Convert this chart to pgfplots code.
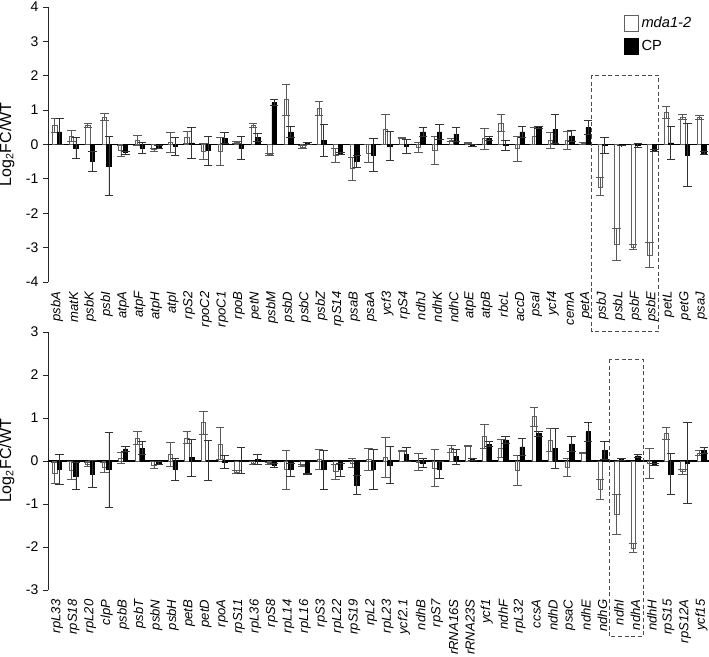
\documentclass[border=0pt]{standalone}
\usepackage{fontspec}
\setmainfont{Liberation Sans}
\usepackage{pgfplots}
\usepackage{pgfplotstable}
\pgfplotsset{compat=1.18}

\pgfplotstableread{
x w we b be
0 0.56 0.20 0.37 0.38
1 0.25 0.15 -0.10 0.30
2 0.56 0.06 -0.49 0.29
3 0.80 0.11 -0.62 0.85
4 -0.18 0.16 -0.24 0.05
5 0.12 0.14 -0.10 0.15
6 -0.15 0.05 -0.08 0.04
7 0.06 0.28 -0.05 0.26
8 0.20 0.17 0.05 0.45
9 -0.20 0.24 -0.18 0.42
10 -0.20 0.40 0.18 0.16
11 0.06 0.03 -0.10 0.34
12 0.56 0.06 0.20 0.12
13 -0.29 0.02 1.22 0.08
14 1.31 0.45 0.37 0.15
15 -0.07 0.05 0.04 0.03
16 1.05 0.19 0.12 0.46
17 -0.31 0.21 -0.25 0.03
18 -0.70 0.33 -0.50 0.18
19 -0.25 0.26 -0.30 0.48
20 0.44 0.44 -0.04 0.42
21 0.19 0.02 -0.05 0.20
22 -0.08 0.14 0.37 0.13
23 -0.17 0.40 0.37 0.21
24 0.13 0.05 0.30 0.21
25 0.05 0.02 -0.03 0.02
26 0.17 0.30 0.18 0.07
27 0.63 0.24 -0.02 0.15
28 -0.12 0.36 0.37 0.17
29 0.25 0.24 0.50 0.03
30 0.12 0.24 0.45 0.42
31 0.13 0.26 0.25 0.17
32 0.03 0.02 0.50 0.20
33 -1.23 0.26 -0.02 0.23
34 -2.90 0.47 -0.03 0.01
35 -2.98 0.06 -0.03 0.05
36 -3.22 0.36 -0.17 0.02
37 0.93 0.17 0.05 0.47
38 0.80 0.07 -0.30 0.92
39 0.79 0.06 -0.25 0.04
}\toptable

\pgfplotstableread{
x w we b be
0 -0.28 0.25 -0.20 0.35
1 -0.22 0.20 -0.35 0.32
2 -0.08 0.04 -0.30 0.32
3 -0.15 0.12 -0.20 0.87
4 0.07 0.13 0.28 0.05
5 0.53 0.15 0.30 0.15
6 -0.10 0.08 -0.05 0.03
7 0.15 0.28 -0.20 0.25
8 0.54 0.14 0.08 0.43
9 0.89 0.26 0.02 0.47
10 0.40 0.37 -0.03 0.15
11 -0.26 0.03 0.02 0.30
12 -0.05 0.04 0.04 0.12
13 -0.05 0.02 -0.10 0.05
14 -0.20 0.45 -0.20 0.15
15 -0.10 0.03 -0.30 0.02
16 0.04 0.24 -0.20 0.45
17 -0.25 0.17 -0.20 0.15
18 -0.05 0.10 -0.56 0.22
19 0.04 0.25 -0.20 0.46
20 0.08 0.47 -0.10 0.43
21 0.24 0.01 0.15 0.16
22 -0.02 0.20 -0.05 0.10
23 -0.16 0.42 -0.20 0.20
24 0.29 0.08 0.10 0.18
25 0.36 0.01 0.03 0.02
26 0.58 0.28 0.39 0.06
27 0.29 0.21 0.49 0.09
28 -0.21 0.35 0.33 0.20
29 1.03 0.22 0.64 0.06
30 0.49 0.27 0.29 0.46
31 -0.15 0.21 0.40 0.17
32 0.19 0.01 0.68 0.22
33 -0.66 0.24 0.24 0.21
34 -1.24 0.47 0.03 0.02
35 -2.02 0.10 0.12 0.04
36 -0.05 0.35 -0.08 0.02
37 0.64 0.14 -0.30 0.48
38 -0.25 0.05 -0.05 0.94
39 0.19 0.06 0.24 0.07
}\bottable

\pgfplotsset{
  panel/.style={
    scale only axis, width=495.75pt,
    xmin=-0.55, xmax=39.45,
    axis y line*=left, axis x line*=bottom,
    x axis line style={draw=none}, xtick style={draw=none},
    xtick={0,...,39},
    tick align=outside, major tick length=3.75pt,
    ytick style={black!85, line width=0.6pt},
    y axis line style={black!85, line width=0.6pt},
    xticklabel style={rotate=90, anchor=east, font=\fontsize{9.8}{11}\selectfont\itshape},
    yticklabel style={font=\fontsize{10.5}{12}\selectfont},
    ylabel={Log\textsubscript{2}FC/WT},
    ylabel style={font=\fontsize{12}{14}\selectfont},
    ylabel shift=-2pt,
    ybar, bar width=0.27,
    extra y ticks={0}, extra y tick labels={},
    extra y tick style={grid=major, major grid style={black, line width=0.9pt}, major tick length=0pt},
    clip=false,
  },
  wbar/.style={fill=white, draw=gray!75!black, line width=0.4pt, bar shift=-0.14,
    legend image code/.code={\draw[fill=white, draw=gray!75!black, line width=0.5pt] (0pt,-6pt) rectangle (11pt,6pt);},
    error bars/.cd, y dir=both, y explicit, error mark=|,
    error bar style={gray!70!black, line width=0.55pt},
    error mark options={gray!70!black, mark size=3.2pt, line width=0.6pt}},
  bbar/.style={fill=black, draw=black, line width=0.4pt, bar shift=0.14,
    legend image code/.code={\draw[fill=black, draw=black] (0pt,-6pt) rectangle (11pt,6pt);},
    error bars/.cd, y dir=both, y explicit, error mark=|,
    error bar style={gray!40!black, line width=0.55pt},
    error mark options={gray!40!black, mark size=3.2pt, line width=0.6pt}},
}

\begin{document}
\begin{tikzpicture}
\begin{axis}[panel,
  at={(0,0)}, anchor=south west,
  height=206.25pt, ymin=-4, ymax=4,
  ytick={-4,-3,-2,-1,0,1,2,3,4},
  yticklabels={-4,-3,-2,-1,0,1,2,3,4},
  xticklabels={psbA,matK,psbK,psbI,atpA,atpF,atpH,atpI,rpS2,rpoC2,rpoC1,rpoB,petN,psbM,psbD,psbC,psbZ,rpS14,psaB,psaA,ycf3,rpS4,ndhJ,ndhK,ndhC,atpE,atpB,rbcL,accD,psaI,ycf4,cemA,petA,psbJ,psbL,psbF,psbE,petL,petG,psaJ},
  legend style={at={(axis cs:34.26,3.8)}, anchor=north west, draw=none, fill=none,
    font=\fontsize{11}{13}\selectfont, row sep=4pt, inner sep=0pt},
  legend cell align=left,
]
\addplot[wbar] table[x=x, y=w, y error=we]{\toptable};
\addplot[bbar] table[x=x, y=b, y error=be]{\toptable};
\legend{{\itshape mda1-2}, CP}
\draw[dashed, gray!60!black, line width=0.6pt, dash pattern=on 3pt off 2pt] (axis cs:32.35,2.02) rectangle (axis cs:36.4,-5.45);
\end{axis}

\begin{axis}[panel,
  at={(0,-231pt)}, anchor=south west,
  height=193.5pt, ymin=-3, ymax=3,
  ytick={-3,-2,-1,0,1,2,3},
  yticklabels={-3,-2,-1,0,1,2,3},
  xticklabels={rpL33,rpS18,rpL20,clpP,psbB,psbT,psbN,psbH,petB,petD,rpoA,rpS11,rpL36,rpS8,rpL14,rpL16,rpS3,rpL22,rpS19,rpL2,rpL23,ycf2.1,ndhB,rpS7,rRNA16S,rRNA23S,ycf1,ndhF,rpL32,ccsA,ndhD,psaC,ndhE,ndhG,ndhI,ndhA,ndhH,rpS15,rpS12A,ycf15},
]
\addplot[wbar] table[x=x, y=w, y error=we]{\bottable};
\addplot[bbar] table[x=x, y=b, y error=be]{\bottable};
\draw[dashed, gray!60!black, line width=0.6pt, dash pattern=on 3pt off 2pt] (axis cs:33.4,2.37) rectangle (axis cs:35.45,-4.09);
\end{axis}
\pgfresetboundingbox
\path[use as bounding box] (-36pt,211.5pt) rectangle (495.75pt,-280.5pt);
\end{tikzpicture}
\end{document}
